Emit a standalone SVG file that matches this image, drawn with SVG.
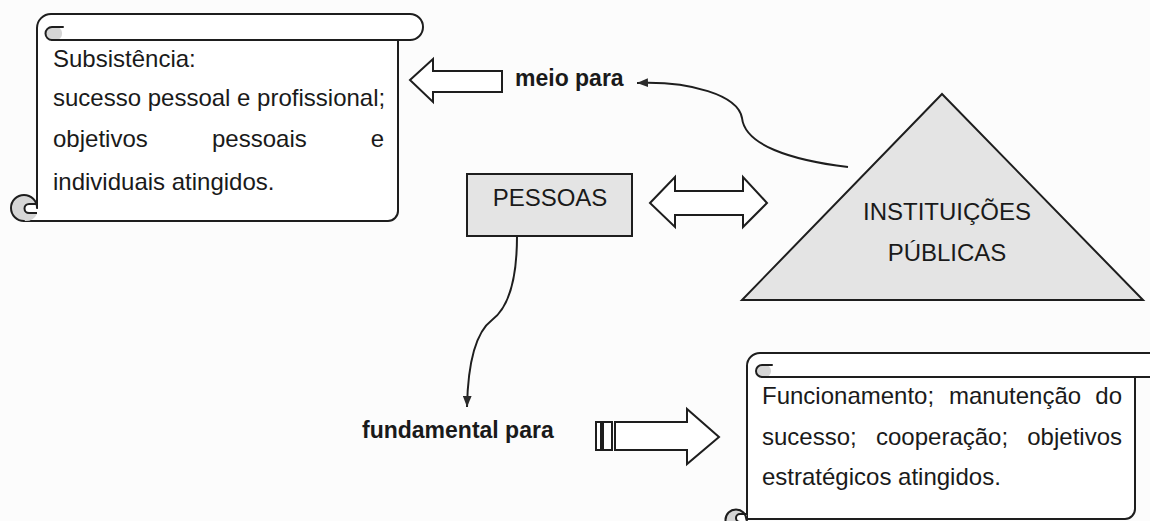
<svg xmlns="http://www.w3.org/2000/svg" width="1150" height="521" viewBox="0 0 1150 521">
  <defs>
    <style>
      .ln { fill: none; stroke: #1e1e1e; stroke-width: 2; stroke-linejoin: round; stroke-linecap: round; }
      .paper { fill: #ffffff; stroke: none; }
      .curl { fill: #d6d6d6; stroke: none; }
      .notch { fill: #ffffff; stroke: #1e1e1e; stroke-width: 2; stroke-linejoin: round; }
      .hollow { fill: #ffffff; stroke: #1e1e1e; stroke-width: 2; stroke-linejoin: miter; }
      .gray { fill: #e4e4e4; stroke: #1e1e1e; stroke-width: 2; stroke-linejoin: miter; }
      .t { font-family: "Liberation Sans", Arial, sans-serif; font-size: 24px; fill: #1a1a1a; }
      .b { font-family: "Liberation Sans", Arial, sans-serif; font-size: 23px; font-weight: bold; fill: #1a1a1a; }
      .con { fill: none; stroke: #1e1e1e; stroke-width: 2; }
    </style>
    <marker id="ah" viewBox="0 0 10 8" refX="10" refY="4" markerWidth="11" markerHeight="9" markerUnits="userSpaceOnUse" orient="auto">
      <path d="M0,0 L10,4 L0,8 Z" fill="#2a2a2a"/>
    </marker>
  </defs>

  <rect x="0" y="0" width="1150" height="521" fill="#fcfcfc"/>

  <!-- Scroll 1: Subsistência -->
  <g id="scroll-subsistencia">
    <path class="paper" d="M 37 28 A 14 14 0 0 1 51 14 H 410 A 13 13 0 0 1 410 40 H 398 V 211 A 10 10 0 0 1 388 221 H 24 L 37 208 Z"/>
    <path class="curl" d="M 52 27 A 6.5 6.5 0 0 0 52 40 L 58 40 A 6.5 6.5 0 0 0 52 27 Z"/>
    <path class="ln" d="M 37 208 V 28 A 14 14 0 0 1 51 14 H 410 A 13 13 0 0 1 410 40"/>
    <line class="ln" x1="52" y1="40" x2="410" y2="40"/>
    <path class="ln" d="M 52 40 A 6.5 6.5 0 0 1 52 27 H 63"/>
    <path class="ln" d="M 398 40 V 211 A 10 10 0 0 1 388 221 H 24"/>
    <path class="curl" d="M 24 221 A 13 13 0 1 1 37 208 L 37 214 A 13 13 0 0 1 24 221 Z"/>
    <path class="notch" d="M 37 204 H 29 A 4.5 4.5 0 0 0 29 213 H 37"/>
    <path class="ln" d="M 24 221 A 13 13 0 1 1 37 208"/>
    <text class="t" x="53" y="67">Subsistência:</text>
    <text class="t" x="53" y="106">sucesso pessoal e profissional;</text>
    <text class="t" x="53" y="147">objetivos</text>
    <text class="t" x="212" y="147">pessoais</text>
    <text class="t" x="384" y="147" text-anchor="end">e</text>
    <text class="t" x="53" y="190">individuais atingidos.</text>
  </g>

  <!-- Scroll 2: Funcionamento -->
  <g id="scroll-funcionamento">
    <path class="paper" d="M 747 366 A 13 13 0 0 1 760 353 H 1160 V 377 H 1135 V 509 A 10 10 0 0 1 1125 519 H 736 L 747 520 Z"/>
    <path class="curl" d="M 762 365 A 6 6 0 0 0 762 377 L 767 377 A 6 6 0 0 0 762 365 Z"/>
    <path class="ln" d="M 747 520 V 366 A 13 13 0 0 1 760 353 H 1165"/>
    <line class="ln" x1="762" y1="377" x2="1165" y2="377"/>
    <path class="ln" d="M 762 377 A 6 6 0 0 1 762 365 H 772"/>
    <path class="ln" d="M 1135 377 V 509 A 10 10 0 0 1 1125 519 H 736"/>
    <path class="curl" d="M 736 530.5 A 10.5 10.5 0 1 1 746.5 520 Z"/>
    <path class="notch" d="M 747 514 H 740 A 4 4 0 0 0 740 522 H 747"/>
    <path class="ln" d="M 736 530.5 A 10.5 10.5 0 1 1 746.5 520"/>
    <text class="t" x="762" y="404">Funcionamento;</text>
    <text class="t" x="949" y="404">manutenção</text>
    <text class="t" x="1122" y="404" text-anchor="end">do</text>
    <text class="t" x="762" y="445">sucesso;</text>
    <text class="t" x="876" y="445">cooperação;</text>
    <text class="t" x="1122" y="445" text-anchor="end">objetivos</text>
    <text class="t" x="762" y="485">estratégicos atingidos.</text>
  </g>

  <!-- PESSOAS -->
  <g id="pessoas">
    <rect class="gray" x="467" y="174" width="165" height="62"/>
    <text class="t" x="550" y="206" text-anchor="middle">PESSOAS</text>
  </g>

  <!-- Instituições públicas -->
  <g id="instituicoes">
    <polygon class="gray" points="942,94 1143,300 742,300"/>
    <text class="t" x="947" y="220" text-anchor="middle">INSTITUIÇÕES</text>
    <text class="t" x="947" y="261" text-anchor="middle">PÚBLICAS</text>
  </g>

  <!-- labels -->
  <g id="label-meio">
    <text class="b" x="515" y="86">meio para</text>
  </g>
  <g id="label-fundamental">
    <text class="b" x="362" y="438">fundamental para</text>
  </g>

  <!-- connectors -->
  <g id="connectors">
    <path class="con" d="M 848 167 C 790 160, 745 145, 742 118 C 738 95, 690 81, 637 83" marker-end="url(#ah)"/>
    <path class="con" d="M 517 236 C 517 280, 508 308, 492 320 C 476 332, 468 360, 467 407" marker-end="url(#ah)"/>
    <polygon class="hollow" points="410,80 433,59 433,71 502,71 502,92 433,92 433,102"/>
    <polygon class="hollow" points="650,203 675,177 675,191 743,191 743,177 767,203 743,227 743,215 675,215 675,227"/>
    <rect class="hollow" x="596" y="422" width="5" height="28"/>
    <rect class="hollow" x="603" y="422" width="9" height="28"/>
    <polygon class="hollow" points="615,422 687,422 687,409 719,437 687,464 687,450 615,450"/>
  </g>
</svg>
